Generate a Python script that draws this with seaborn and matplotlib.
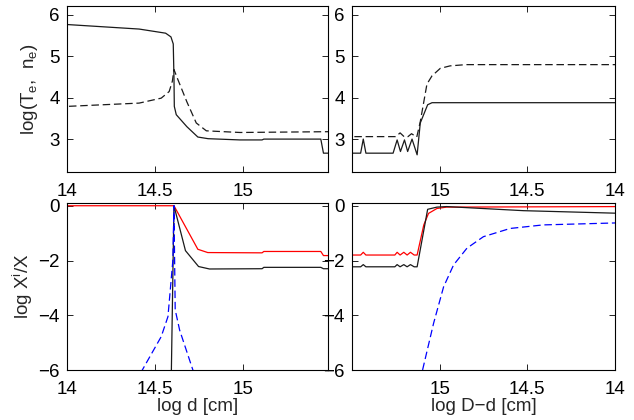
import numpy as np
import matplotlib
matplotlib.use("Agg")
import matplotlib.pyplot as plt
import pandas as pd
import seaborn as sns

# ---- upper left: log T_e (solid) and log n_e (dashed) vs log d
d_Te = [13.95, 14.0, 14.41, 14.56, 14.59, 14.603, 14.607, 14.609, 14.62, 14.68, 14.742, 14.8,
        14.98, 15.105, 15.115, 15.437, 15.452, 15.5]
Te_left = [5.77, 5.77, 5.66, 5.56, 5.47, 5.3, 4.5, 3.79, 3.59, 3.3, 3.05, 3.01,
           2.98, 2.98, 3.0, 3.0, 2.66, 2.66]
d_ne = [13.95, 14.0, 14.41, 14.535, 14.58, 14.598, 14.607, 14.63, 14.68, 14.733, 14.79, 14.98, 15.5]
ne_left = [3.79, 3.79, 3.87, 3.99, 4.15, 4.4, 4.68, 4.43, 3.9, 3.39, 3.2, 3.16, 3.18]

# ---- upper right: same vs log D-d
Dd_Te = [15.55, 15.45, 15.435, 15.42, 15.265, 15.242, 15.223, 15.2, 15.182, 15.157, 15.128,
         15.11, 15.068, 15.043, 14.9, 13.95]
Te_right = [2.66, 2.66, 3.0, 2.66, 2.66, 2.98, 2.7, 2.98, 2.7, 3.0, 2.62,
            3.39, 3.83, 3.88, 3.88, 3.88]
Dd_ne = [15.55, 15.25, 15.225, 15.2, 15.18, 15.16, 15.13, 15.11, 15.072, 15.043, 14.996,
         14.94, 14.85, 13.95]
ne_right = [3.06, 3.06, 3.15, 3.05, 3.06, 3.13, 3.05, 3.42, 4.33, 4.53, 4.71,
            4.77, 4.8, 4.8]

# ---- lower left: log X^i/X vs log d
d_red = [13.95, 14.0, 14.607, 14.742, 14.798, 15.105, 15.115, 15.437, 15.452, 15.5]
red_left = [0.0, 0.0, 0.0, -1.59, -1.71, -1.72, -1.67, -1.67, -1.82, -1.82]
d_blk = [14.59, 14.607, 14.672, 14.746, 14.808, 15.105, 15.115, 15.437, 15.452, 15.5]
blk_left = [-7.0, 0.0, -1.64, -2.22, -2.31, -2.3, -2.25, -2.25, -2.3, -2.3]
d_blu = [14.4, 14.428, 14.535, 14.573, 14.601, 14.607, 14.614, 14.639, 14.714, 14.73]
blu_left = [-6.5, -6.0, -4.78, -4.05, -1.98, 0.0, -3.8, -4.54, -6.0, -6.4]

# ---- lower right: vs log D-d
Dd_red = [15.55, 15.45, 15.435, 15.42, 15.255, 15.242, 15.225, 15.204, 15.185, 15.166,
          15.145, 15.128, 15.09, 15.063, 15.015, 14.96, 13.95]
red_right = [-1.8, -1.8, -1.7, -1.8, -1.8, -1.7, -1.8, -1.7, -1.8, -1.7,
             -1.8, -1.8, -0.7, -0.28, -0.1, -0.05, -0.03]
Dd_blk = [15.55, 15.45, 15.435, 15.42, 15.255, 15.242, 15.225, 15.204, 15.185, 15.166,
          15.145, 15.128, 15.068, 15.015, 14.96, 14.522, 13.95]
blk_right = [-2.23, -2.23, -2.15, -2.23, -2.23, -2.15, -2.23, -2.15, -2.23, -2.15,
             -2.23, -2.23, -0.13, -0.05, -0.03, -0.18, -0.28]
Dd_blu = [15.11, 15.097, 15.034, 14.977, 14.92, 14.844, 14.75, 14.598, 14.41, 13.95]
blu_right = [-6.4, -6.0, -4.29, -2.96, -2.16, -1.55, -1.13, -0.83, -0.70, -0.62]

sns.set_theme(style="ticks", rc={
    "axes.linewidth": 0.8,
    "axes.edgecolor": "black",
    "xtick.color": "black",
    "ytick.color": "black",
    "mathtext.fontset": "custom",
    "mathtext.rm": "Liberation Sans",
    "mathtext.it": "Liberation Sans:italic",
})
plt.rcParams["font.family"] = ["Liberation Sans", "DejaVu Sans"]
fs = 13.5

fig = plt.figure(figsize=(6.34, 4.2), dpi=100)
ax_tl = fig.add_axes([0.105, 0.590, 0.413, 0.396])
ax_tr = fig.add_axes([0.555, 0.590, 0.415, 0.396])
ax_bl = fig.add_axes([0.105, 0.119, 0.413, 0.397])
ax_br = fig.add_axes([0.555, 0.119, 0.415, 0.397])

dash = (0, (6, 3))
lw = 0.9
kw = dict(sort=False, estimator=None, lw=lw)

sns.lineplot(x=d_Te, y=Te_left, ax=ax_tl, color="k", **kw)
sns.lineplot(x=d_ne, y=ne_left, ax=ax_tl, color="k", linestyle=dash, **kw)
sns.lineplot(x=Dd_Te, y=Te_right, ax=ax_tr, color="k", **kw)
sns.lineplot(x=Dd_ne, y=ne_right, ax=ax_tr, color="k", linestyle=dash, **kw)

sns.lineplot(x=d_red, y=red_left, ax=ax_bl, color="red", **kw)
sns.lineplot(x=d_blk, y=blk_left, ax=ax_bl, color="k", **kw)
sns.lineplot(x=d_blu, y=blu_left, ax=ax_bl, color="blue", linestyle=dash, **kw)
sns.lineplot(x=Dd_red, y=red_right, ax=ax_br, color="red", **kw)
sns.lineplot(x=Dd_blk, y=blk_right, ax=ax_br, color="k", **kw)
sns.lineplot(x=Dd_blu, y=blu_right, ax=ax_br, color="blue", linestyle=dash, **kw)

xt = [14, 14.5, 15]
xtl = ["14", "14.5", "15"]
for ax in (ax_tl, ax_tr, ax_bl, ax_br):
    ax.set_xticks(xt)
    ax.set_xticklabels(xtl)
    ax.tick_params(direction="in", top=True, right=True, length=4, width=0.6,
                   labelsize=fs, pad=5)
    ax.tick_params(axis="x", pad=8)
    ax.set_xlabel("")
    ax.set_ylabel("")

for ax in (ax_tl, ax_bl):
    ax.set_xlim(14, 15.48)
for ax in (ax_tr, ax_br):
    ax.set_xlim(15.5, 14)

for ax in (ax_tl, ax_tr):
    ax.set_ylim(2.2, 6.22)
    ax.set_yticks([3, 4, 5, 6])
    ax.set_yticklabels(["3", "4", "5", "6"])
for ax in (ax_bl, ax_br):
    ax.set_ylim(-6, 0.09)
    ax.set_yticks([-6, -4, -2, 0])
    ax.set_yticklabels(["\u22126", "\u22124", "\u22122", "0"])

ax_tl.set_ylabel(r"log(T$_{\rm e}$,  n$_{\rm e}$)", fontsize=fs, labelpad=6.5)
ax_bl.set_ylabel(r"log X$^{\rm i}$/X", fontsize=fs, labelpad=2)
ax_bl.set_xlabel("log d [cm]", fontsize=fs, labelpad=0)
ax_br.set_xlabel("log D\u2212d [cm]", fontsize=fs, labelpad=0)

fig.savefig("out.png", dpi=100)
